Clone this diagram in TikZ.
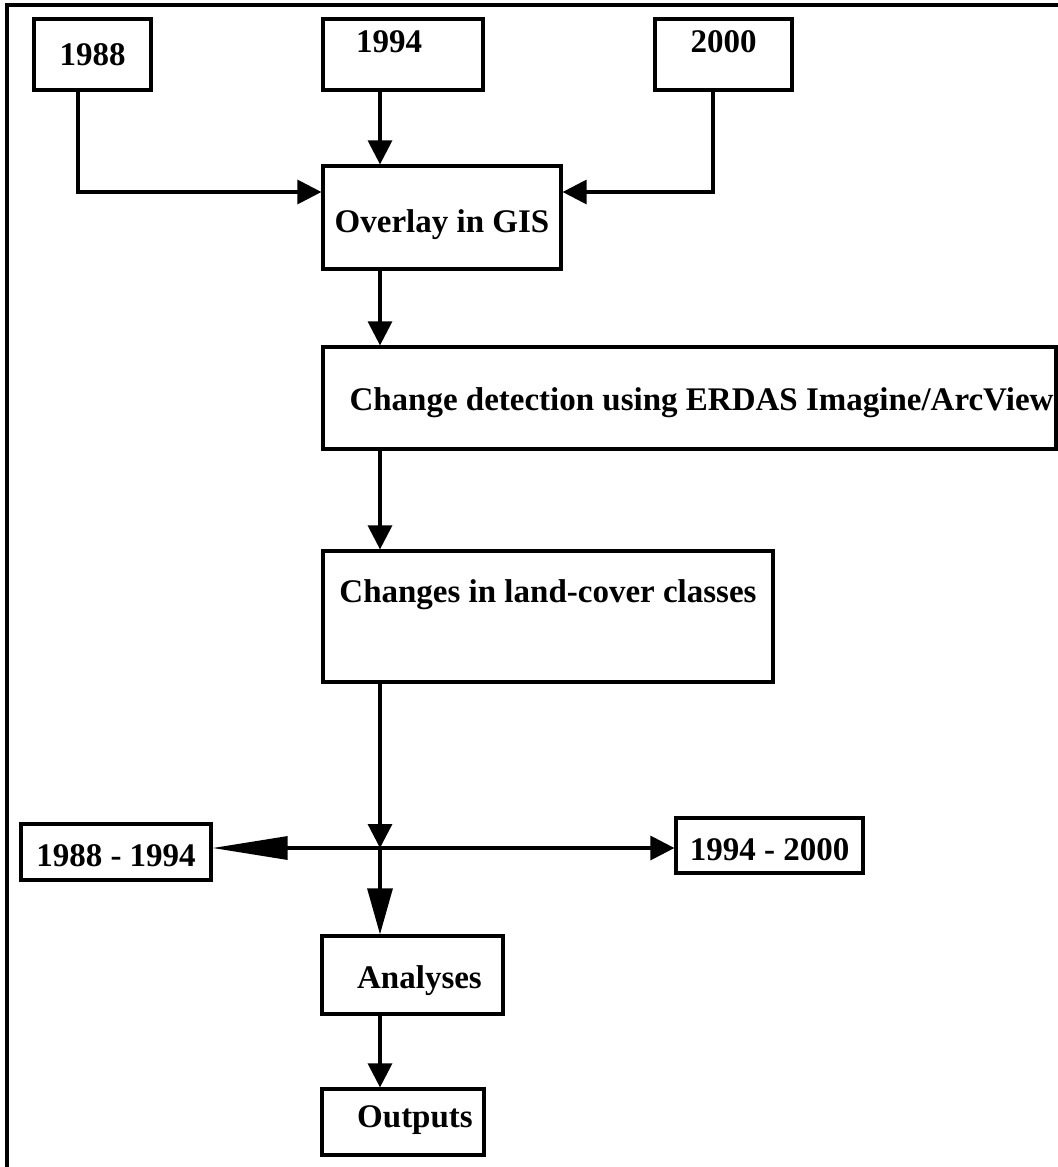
\documentclass[tikz,border=0pt]{standalone}
\usepackage{fontspec}
\setmainfont{Liberation Serif}
\usetikzlibrary{arrows.meta}

\begin{document}
\begin{tikzpicture}[
        x=0.5pt,
        y=-0.5pt,
        line width=1.6pt,
        box/.style={draw, rectangle, inner sep=0pt, font=\fontsize{16.5}{19}\selectfont\bfseries},
        arr/.style={-{Triangle[length=12pt,width=12pt]}},
        longarr/.style={-{Triangle[length=23pt,width=12.5pt]}},
        slimarr/.style={-{Triangle[length=37.5pt,width=11.5pt]}}
    ]
    \useasboundingbox (0,0) rectangle (1058,1167);
    \draw (7,1167) -- (7,5) -- (1058,5);

    \node[box, minimum width=58.5pt, minimum height=35.5pt] (y88) at (92.5,54.5) {1988};
    \node[box, minimum width=80pt, text height=16.5pt, text depth=19pt] (y94) at (403,54.5) {\hspace*{-14pt}1994};
    \node[box, minimum width=68.5pt, text height=16.5pt, text depth=19pt] (y00) at (723.5,54.5) {2000};
    \node[box, minimum width=119pt, text height=33pt, text depth=18.5pt] (gis) at (442,217.5) {Overlay in GIS};
    \node[box, minimum width=366.5pt, text height=31.5pt, text depth=19.5pt] (detect) at (689.5,398) {\hspace*{12pt}Change detection using ERDAS Imagine/ArcView};
    \node[box, minimum width=225pt, text height=25.5pt, text depth=40pt] (classes) at (548,616.5) {Changes in land-cover classes};
    \node[box, minimum width=95pt, text height=21pt, text depth=7pt] (p1) at (116,852) {1988 - 1994};
    \node[box, minimum width=93.5pt, text height=21pt, text depth=6.5pt] (p2) at (769.5,845.5) {1994 - 2000};
    \node[box, minimum width=90.5pt, text height=26pt, text depth=13pt] (anl) at (412.5,975) {\hspace*{7pt}Analyses};
    \node[box, minimum width=81pt, text height=19pt, text depth=14pt] (out) at (403,1122) {\hspace*{12pt}Outputs};

    \coordinate (col) at (380,0);
    \coordinate (k88) at (78,192);
    \coordinate (k00) at (713,192);
    \coordinate (jn) at (380,848);

    \draw[arr] (y88.south -| k88) -- (k88) -- (gis.west |- k88);
    \draw[arr] (y94.south -| col) -- (gis.north -| col);
    \draw[arr] (y00.south -| k00) -- (k00) -- (gis.east |- k00);
    \draw[arr] (gis.south -| col) -- (detect.north -| col);
    \draw[arr] (detect.south -| col) -- (classes.north -| col);
    \draw[arr] (classes.south -| col) -- (jn);
    \draw[slimarr] (jn) -- (p1.east |- jn);
    \draw[arr] (jn) -- (p2.west |- jn);
    \draw[longarr] (jn) -- (anl.north -| col);
    \draw[arr] (anl.south -| col) -- (out.north -| col);
\end{tikzpicture}
\end{document}
